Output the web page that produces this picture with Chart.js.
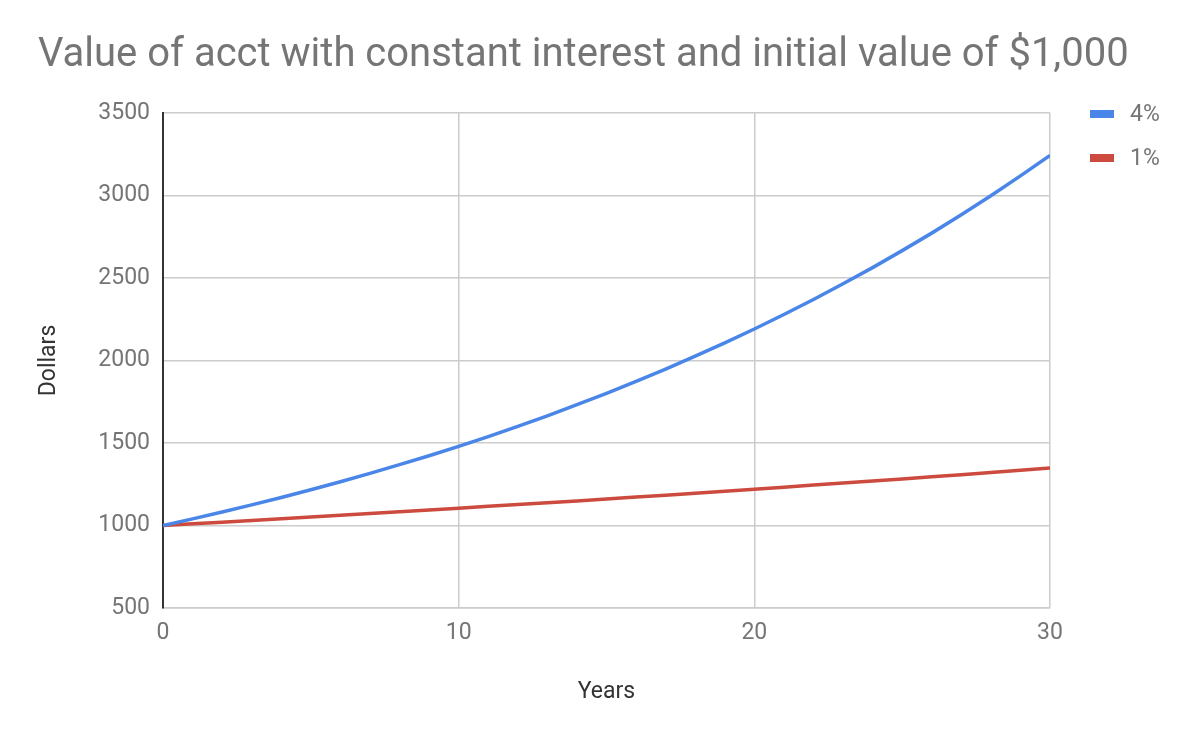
<!DOCTYPE html>
<html>
<head>
<meta charset="utf-8">
<title>Value of acct with constant interest</title>
<script src="https://cdn.jsdelivr.net/npm/chart.js@4"></script>
<style>
  html, body { margin: 0; padding: 0; background: #fff; }
  #wrap { width: 1200px; height: 742px; }
</style>
</head>
<body>
<div id="wrap"><canvas id="acctChart" width="1200" height="742"></canvas></div>
<script>
// Years on the x axis
const years = [0,1,2,3,4,5,6,7,8,9,10,11,12,13,14,15,16,17,18,19,20,21,22,23,24,25,26,27,28,29,30];

// Account value, 4% curve
const value4 = [1000,1040,1082,1125,1170,1217,1265,1316,1369,1423,1480,1539,1601,1665,1732,1801,
                1873,1948,2026,2107,2191,2279,2370,2465,2563,2666,2772,2883,2999,3119,3243];

// Account value, 1% curve
const value1 = [1000,1010,1020,1030,1041,1051,1062,1072,1083,1094,1105,1116,1127,1138,1149,1161,
                1173,1184,1196,1208,1220,1232,1245,1257,1270,1282,1295,1308,1321,1335,1348];

const seriesLabels = ["4%", "1%"];
const seriesColors = ["#4a86e8", "#cc4b3e"];
const chartTitle = "Value of acct with constant interest and initial value of $1,000";

const GREY = "#757575";
const FONT = "Roboto, 'Noto Sans', sans-serif";

// title drawn by hand: the built-in one gets squeezed to the plot width
// because of the room kept on the right for the legend
const wideTitle = {
  id: "wideTitle",
  afterDraw(chart){
    const {ctx} = chart;
    ctx.save();
    ctx.font = `40px ${FONT}`;
    ctx.fillStyle = GREY;
    ctx.textAlign = "left";
    ctx.textBaseline = "middle";
    ctx.fillText(chartTitle, 38, 56);
    ctx.restore();
  }
};

// simple legend to the right of the plot area
const sideLegend = {
  id: "sideLegend",
  afterDraw(chart){
    const {ctx, chartArea} = chart;
    ctx.save();
    ctx.font = `23px ${FONT}`;
    ctx.textBaseline = "middle";
    ctx.textAlign = "left";
    chart.data.datasets.forEach((ds, i) => {
      const y = chartArea.top + 1 + i * 44;
      ctx.fillStyle = ds.borderColor;
      ctx.fillRect(chartArea.right + 40, y - 4, 24, 8);
      ctx.fillStyle = GREY;
      ctx.fillText(ds.label, chartArea.right + 80, y + 1);
    });
    ctx.restore();
  }
};

const toPoints = vals => years.map((yr, i) => ({ x: yr, y: vals[i] }));

new Chart(document.getElementById("acctChart"), {
  type: "line",
  data: {
    datasets: [
      { label: seriesLabels[0], data: toPoints(value4), borderColor: seriesColors[0], borderWidth: 3.5, pointRadius: 0, tension: 0 },
      { label: seriesLabels[1], data: toPoints(value1), borderColor: seriesColors[1], borderWidth: 3.5, pointRadius: 0, tension: 0 }
    ]
  },
  options: {
    responsive: false,
    animation: false,
    layout: { padding: { left: 38, right: 150, top: 113, bottom: 0 } },
    plugins: {
      legend: { display: false },
      tooltip: { enabled: false },
      title: { display: false }
    },
    scales: {
      x: {
        type: "linear",
        min: 0,
        max: 30,
        ticks: { stepSize: 10, color: GREY, padding: 11, font: { family: FONT, size: 23 } },
        grid: { color: "#cccccc", lineWidth: 1.5, drawTicks: false },
        border: { color: "#cccccc", width: 1.5 },
        title: { display: true, text: "Years", color: "#333", font: { family: FONT, size: 23 }, padding: { top: 0, bottom: 36 } },
        afterFit(scale){ scale.height = 134; }
      },
      y: {
        min: 500,
        max: 3500,
        ticks: {
          stepSize: 500, color: GREY, padding: 13, font: { family: FONT, size: 23 },
          callback: v => String(v)
        },
        grid: { color: "#cccccc", lineWidth: 1.5, drawTicks: false },
        border: { color: "#333333", width: 2 },
        title: { display: true, text: "Dollars", color: "#333", font: { family: FONT, size: 23 }, padding: { top: -3, bottom: 0 } },
        afterFit(scale){ scale.width = 125; }
      }
    }
  },
  plugins: [wideTitle, sideLegend]
});
</script>
</body>
</html>
